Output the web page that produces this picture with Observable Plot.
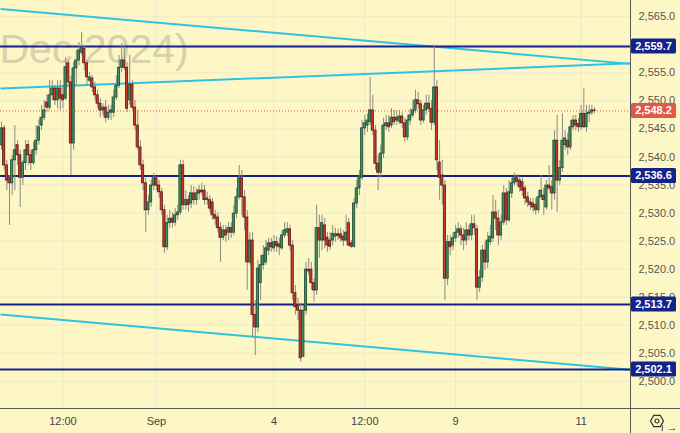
<!DOCTYPE html>
<html>
<head>
<meta charset="utf-8">
<script src="https://cdn.jsdelivr.net/npm/d3@7"></script>
<script src="https://cdn.jsdelivr.net/npm/@observablehq/plot@0.6"></script>
<style>
  html, body { margin: 0; padding: 0; background: #fdf7c6; }
  svg { display: block; }
</style>
</head>
<body>
<script>
// ---- Candle data (hourly bars, oldest first) ----
const open = [
  2542.1,2545.1,2538.5,2536.2,2535.3,2539.4,2542.1,2540.3,2536.3,2538.9,2542.1,2540.3,2538.9,2541.2,2542.9,2545.6,2547.0,2549.7,2548.8,2551.0,2552.2,2550.1,2552.2,2551.0,2550.4,2556.7,2553.3,
  2542.4,2555.8,2557.2,2558.6,2559.3,2556.7,2553.6,2554.0,2552.4,2551.0,2549.5,2548.3,2548.8,2547.0,2547.9,2547.9,2550.6,2552.7,2555.9,2557.2,2555.9,2550.1,2552.9,2548.8,2545.6,2541.7,2538.5,2535.3,2530.5,2531.9,2534.9,2536.2,2534.9,2533.7,2530.5,
  2523.9,2528.2,2529.0,2528.3,2529.6,2530.1,2538.5,2531.4,2532.3,2531.7,2533.5,2532.3,2534.0,2534.0,2534.0,2532.3,2532.3,2531.9,2529.6,2529.2,2527.4,2525.6,2526.9,2526.5,2527.3,2526.5,2529.9,2532.8,2536.2,2532.8,2529.2,2521.2,2525.1,
  2511.8,2509.6,2517.5,2520.7,2521.2,2523.3,2524.6,2523.7,2524.8,2524.4,2523.7,2526.0,2526.5,2527.1,2524.2,2515.7,2513.5,2512.6,
  2504.4,2512.6,2519.9,2519.9,2517.5,2516.2,2527.3,2525.1,2527.8,2525.6,2525.1,2525.1,2525.8,2526.2,2526.2,2525.8,2525.1,2528.2,2524.6,2524.0,2531.7,2534.4,2536.3,
  2545.1,2545.6,2546.2,2548.3,2544.7,2538.8,2537.2,2540.6,2545.5,2546.0,2545.6,2547.0,2547.0,2546.3,2547.2,2546.0,2543.5,2546.5,2547.4,2548.3,2550.1,2549.4,2546.5,2548.3,2549.5,2548.6,2546.1,
  2552.4,2539.0,2536.7,2534.9,2518.3,2524.8,2524.2,2525.5,2526.5,2527.1,2526.0,2525.1,2526.9,2526.0,2528.0,
  2527.1,2516.7,2518.5,2523.3,2521.2,2524.8,2525.5,2530.1,2529.0,2526.0,2528.3,2533.5,2528.7,2533.5,2535.3,2536.2,2535.8,2535.5,2534.4,2532.8,2531.9,2531.7,2531.4,2530.5,2532.8,2533.1,2531.0,2534.9,2534.6,2533.5,2542.9,2535.8,2538.0,2542.1,2542.9,2541.7,2545.3,2546.5,2545.9,2545.3,2547.7,2545.3,2547.7,2547.9,2548.3
];
const high = [
  2546.2,2545.6,2539.4,2536.7,2540.3,2545.6,2542.9,2541.2,2539.4,2542.9,2542.9,2541.2,2542.6,2545.6,2546.5,2549.2,2550.1,2551.0,2553.6,2553.6,2552.7,2553.6,2553.6,2552.7,2557.7,2557.2,2554.5,
  2556.9,2559.0,2560.4,2562.2,2559.9,2557.2,2555.1,2554.5,2553.3,2551.9,2550.4,2549.5,2550.1,2549.2,2549.2,2551.9,2554.5,2558.1,2560.2,2559.9,2556.9,2558.1,2553.6,2550.1,2548.3,2542.9,2539.4,2536.2,2533.1,2535.8,2537.1,2536.5,2535.8,2534.4,2531.4,
  2529.6,2530.5,2530.1,2530.8,2531.4,2539.4,2539.4,2534.0,2533.1,2534.9,2534.7,2534.4,2534.9,2535.3,2534.9,2533.7,2533.1,2532.6,2530.5,2530.1,2528.3,2527.8,2527.8,2528.3,2528.3,2531.4,2534.4,2538.5,2537.6,2534.0,2530.5,2526.5,2526.5,
  2514.4,2521.6,2522.4,2524.2,2525.1,2525.5,2525.5,2526.0,2525.8,2525.5,2526.9,2528.3,2528.3,2527.8,2525.1,2517.1,2514.8,2513.9,
  2513.5,2521.2,2521.9,2521.2,2518.3,2531.4,2529.6,2529.6,2529.0,2526.5,2526.5,2527.8,2527.3,2527.1,2527.3,2526.9,2529.6,2529.0,2525.1,2532.6,2535.8,2537.6,2546.5,
  2547.4,2547.7,2554.2,2551.0,2545.6,2540.3,2542.1,2546.9,2547.4,2547.4,2548.6,2548.3,2548.3,2548.3,2547.9,2546.9,2547.4,2548.6,2550.1,2551.9,2551.5,2550.1,2549.2,2551.0,2551.0,2550.1,2559.9,
  2553.6,2542.9,2539.4,2535.8,2526.0,2526.0,2526.5,2527.8,2528.3,2527.8,2527.3,2528.3,2527.8,2529.6,2529.6,
  2527.8,2519.8,2524.2,2524.8,2526.5,2527.8,2533.1,2532.3,2530.5,2529.6,2534.9,2534.4,2535.8,2536.2,2537.1,2536.9,2536.5,2536.2,2534.9,2533.7,2532.6,2532.6,2532.6,2534.0,2536.7,2534.4,2535.8,2538.5,2535.8,2544.7,2547.4,2539.4,2547.7,2544.7,2544.2,2546.5,2547.4,2547.4,2546.9,2549.2,2552.2,2549.2,2549.2,2549.2,2548.8
];
const low = [
  2541.2,2537.6,2534.0,2527.8,2533.1,2534.0,2538.5,2531.0,2534.9,2537.6,2538.5,2537.6,2538.5,2540.3,2542.1,2544.7,2546.5,2547.9,2548.3,2550.1,2549.2,2548.6,2548.3,2548.6,2550.1,2552.7,2536.7,
  2541.2,2552.7,2556.3,2558.1,2555.4,2552.7,2553.3,2551.5,2550.1,2548.6,2547.0,2547.4,2546.1,2546.5,2546.5,2547.0,2550.1,2552.2,2555.1,2555.4,2547.9,2549.2,2548.3,2544.7,2541.2,2537.6,2534.0,2526.5,2529.6,2531.0,2534.0,2534.0,2532.6,2529.6,2522.8,
  2523.3,2527.3,2527.3,2527.6,2528.7,2529.6,2530.5,2530.5,2530.1,2530.8,2531.4,2531.4,2532.3,2533.1,2531.4,2531.4,2530.1,2528.7,2527.8,2526.5,2521.2,2525.1,2524.8,2525.1,2525.5,2526.0,2529.0,2532.3,2529.6,2526.9,2516.2,2520.7,2507.8,
  2504.6,2508.7,2514.4,2519.8,2520.7,2522.4,2523.0,2523.0,2523.0,2522.4,2523.3,2525.5,2525.8,2523.3,2514.4,2511.8,2510.9,2503.4,
  2504.2,2511.8,2518.9,2516.2,2514.1,2515.3,2521.9,2523.3,2523.7,2523.0,2523.3,2524.2,2524.8,2525.1,2524.8,2524.0,2524.8,2524.0,2523.7,2523.7,2530.8,2533.1,2535.8,
  2543.8,2544.4,2545.6,2543.8,2537.6,2534.0,2536.2,2539.7,2544.7,2544.4,2545.1,2545.6,2545.6,2545.8,2545.1,2542.6,2542.9,2545.6,2546.9,2547.7,2548.6,2545.6,2546.0,2547.4,2547.9,2544.7,2545.6,
  2537.6,2532.3,2531.4,2514.4,2517.1,2522.4,2523.3,2524.8,2525.5,2524.2,2523.3,2524.2,2525.1,2525.1,2526.0,
  2514.4,2515.8,2517.6,2519.8,2520.1,2524.2,2524.8,2526.9,2524.2,2525.1,2527.8,2527.8,2528.3,2532.6,2534.7,2534.9,2533.7,2533.0,2531.4,2531.0,2530.5,2530.1,2529.6,2529.9,2532.3,2529.6,2530.5,2534.0,2530.5,2532.3,2530.1,2534.9,2537.2,2541.2,2540.3,2541.2,2544.7,2544.7,2544.4,2544.7,2545.1,2544.4,2546.1,2547.4,2547.7
];
const close = [
  2545.1,2538.5,2535.8,2535.3,2539.4,2541.2,2540.3,2536.3,2538.9,2541.2,2540.3,2538.9,2541.2,2542.9,2545.3,2547.0,2548.3,2548.8,2551.0,2552.2,2550.1,2552.2,2550.4,2550.1,2556.0,2553.3,2542.4,
  2555.8,2557.2,2559.0,2559.5,2556.7,2554.2,2554.2,2552.4,2551.0,2549.5,2548.3,2548.8,2547.0,2547.9,2548.3,2550.6,2552.7,2555.9,2557.2,2555.9,2548.6,2552.9,2548.8,2545.6,2541.7,2538.5,2535.3,2530.5,2531.9,2534.9,2536.2,2534.9,2533.7,2530.5,2523.9,
  2528.2,2529.0,2528.3,2529.6,2530.1,2538.5,2531.4,2532.3,2531.4,2533.5,2532.3,2533.5,2533.5,2533.7,2532.3,2532.6,2530.8,2529.6,2529.0,2527.3,2525.6,2526.9,2526.0,2527.3,2526.5,2529.9,2532.8,2536.2,2532.8,2529.2,2521.2,2525.1,2511.8,
  2509.6,2520.1,2520.7,2522.4,2523.7,2524.6,2523.9,2524.8,2524.1,2523.9,2526.0,2526.9,2527.1,2524.2,2515.7,2513.2,2512.6,2504.1,
  2512.6,2519.9,2519.6,2517.5,2516.2,2527.3,2525.1,2528.2,2525.1,2524.2,2524.0,2526.3,2526.2,2525.9,2525.5,2525.1,2526.5,2524.2,2524.0,2531.7,2534.4,2536.5,2545.1,
  2546.0,2546.5,2548.3,2544.7,2538.8,2537.2,2540.6,2545.6,2546.0,2545.3,2547.0,2546.2,2546.5,2547.2,2546.0,2543.5,2546.5,2547.4,2548.3,2550.1,2549.4,2546.5,2548.3,2549.5,2548.6,2546.1,2552.4,
  2539.4,2536.3,2534.9,2518.3,2524.8,2523.9,2525.5,2526.5,2527.1,2526.0,2525.1,2526.9,2526.0,2528.0,2527.3,
  2516.7,2518.5,2523.3,2521.2,2525.1,2525.8,2530.1,2529.0,2526.0,2528.3,2533.5,2528.7,2533.7,2535.3,2536.2,2535.6,2534.6,2534.0,2532.6,2531.9,2531.4,2531.0,2530.5,2532.8,2534.0,2532.3,2534.9,2534.4,2533.5,2542.9,2535.8,2538.0,2542.9,2543.3,2541.7,2545.3,2546.5,2545.6,2545.3,2547.7,2545.3,2547.7,2547.9,2548.3,2548.2
];

// ---- Axis ticks ----
const xTickIndex = [23, 58, 102, 136, 170, 217];
const xTickLabels = ["12:00", "Sep", "4", "12:00", "9", "11"];
const yGrid = [2500, 2505, 2510, 2515, 2520, 2525, 2530, 2535, 2540, 2545, 2550, 2555, 2560, 2565];
// 2,560.0 is fully covered by the 2,559.7 tag in the reference, so it is not labelled
const yTickLabels = [2500, 2505, 2510, 2515, 2520, 2525, 2530, 2535, 2540, 2545, 2550, 2555, 2565];

// ---- Drawn levels ----
const levels = [2559.7, 2536.6, 2513.7, 2502.1];
const lastPrice = 2548.2;
// trend lines: price at the left edge and at the right edge of the chart
const trendLeft = [2566.4, 2552.2, 2511.9];
const trendRight = [2556.6, 2556.7, 2502.05];
const watermark = "Dec 2024)";

// ---- Scale domains ----
const xDomain = [-0.37, 235.47];
const yDomain = [2495.15, 2567.9];

const N = close.length;
const bars = d3.range(N).map(i => ({i, o: open[i], h: high[i], l: low[i], c: close[i]}));
const trends = trendLeft.map((v, k) => ({a: v, b: trendRight[k]}));
const labelOf = new Map(xTickIndex.map((t, k) => [t, xTickLabels[k]]));

const BG = "#fdf7c6";
const GRID = "#eee8cd";
const NAVY = "#13238a";
const CYAN = "#2fc3e2";
const UP = "#409162", UPS = "#1d4a31";
const DN = "#c63a2f", DNS = "#5c1b16";

const plot = Plot.plot({
  width: 680,
  height: 433,
  marginTop: 0,
  marginLeft: 0,
  marginRight: 50,
  marginBottom: 25,
  style: {background: BG, fontFamily: "Liberation Sans, Arial, sans-serif", fontSize: "11px"},
  x: {domain: xDomain, axis: null},
  y: {domain: yDomain, axis: null},
  marks: [
    Plot.gridY(yGrid, {stroke: GRID, strokeOpacity: 1, strokeWidth: 1}),
    Plot.gridX(xTickIndex, {stroke: GRID, strokeOpacity: 1, strokeWidth: 1}),
    Plot.text([watermark], {frameAnchor: "top-left", textAnchor: "start", lineAnchor: "middle", dy: 49, dx: -1,
      fontSize: 41, fill: "#d8d1ad", fontFamily: "Liberation Sans, Arial, sans-serif"}),
    Plot.link(trends, {x1: () => xDomain[0], x2: () => xDomain[1], y1: "a", y2: "b", stroke: CYAN, strokeWidth: 2}),
    Plot.ruleY(levels, {stroke: NAVY, strokeWidth: 2}),
    Plot.ruleY([lastPrice], {stroke: "#e0574c", strokeWidth: 1, strokeDasharray: "1,2"}),
    Plot.ruleX(bars, {x: "i", y1: "l", y2: "h", stroke: "#8b8a84", strokeWidth: 1}),
    Plot.rect(bars, {
      x1: d => d.i - 0.42, x2: d => d.i + 0.42,
      y1: "o", y2: "c",
      fill: d => d.c >= d.o ? UP : DN,
      stroke: d => d.c >= d.o ? UPS : DNS,
      strokeWidth: 0.8
    }),
    Plot.axisY(yTickLabels, {anchor: "right", tickSize: 0, tickPadding: 8, textAnchor: "start",
      tickFormat: d3.format(",.1f"), fill: "#555", fontSize: 11}),
    Plot.axisX(xTickIndex, {anchor: "bottom", tickSize: 0, tickPadding: 9,
      tickFormat: t => labelOf.get(t), fill: "#444", fontSize: 11})
  ]
});
document.body.appendChild(plot);

// ---- Price-scale decorations: separator lines and level tags ----
const svg = d3.select(plot);
const ys = plot.scale("y");
const fmt = d3.format(",.1f");
const right = 630, bottom = 408;
svg.append("line").attr("x1", right + 0.5).attr("x2", right + 0.5).attr("y1", 0).attr("y2", 433)
  .attr("stroke", "#5a5a5a").attr("stroke-width", 1);
svg.append("line").attr("x1", 0).attr("x2", 680).attr("y1", bottom + 0.5).attr("y2", bottom + 0.5)
  .attr("stroke", "#5a5a5a").attr("stroke-width", 1);

const tags = levels.map(v => ({v, fill: NAVY})).concat([{v: lastPrice, fill: "#e0574c"}]);
const g = svg.append("g");
for (const t of tags) {
  const yy = ys.apply(t.v);
  g.append("rect").attr("x", right + 1).attr("y", yy - 7.5).attr("width", 45).attr("height", 15)
    .attr("rx", 1.5).attr("fill", t.fill);
  g.append("text").attr("x", right + 23.5).attr("y", yy).attr("dy", "0.35em")
    .attr("text-anchor", "middle").attr("fill", "#fff").attr("font-weight", "bold")
    .attr("font-size", 11).attr("font-family", "Liberation Sans, Arial, sans-serif").text(fmt(t.v));
}

// settings icon in the corner
const ic = svg.append("g").attr("transform", "translate(657,421)");
const hex = d3.range(6).map(k => { const a = Math.PI / 3 * k; return [6.5 * Math.cos(a), 6.5 * Math.sin(a)]; });
ic.append("path").attr("d", "M" + hex.join("L") + "Z").attr("fill", "none").attr("stroke", "#333").attr("stroke-width", 1.2);
ic.append("circle").attr("r", 2).attr("fill", "none").attr("stroke", "#333").attr("stroke-width", 1.2);
</script>
</body>
</html>
